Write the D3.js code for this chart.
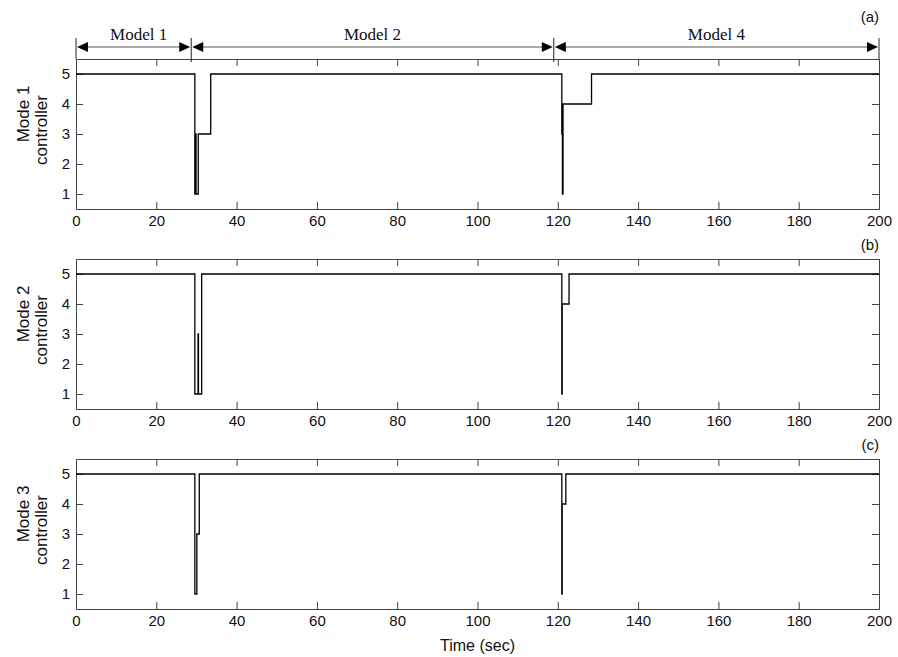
<!DOCTYPE html>
<html>
<head>
<meta charset="utf-8">
<script src="https://cdnjs.cloudflare.com/ajax/libs/d3/7.8.5/d3.min.js"></script>
<style>
body { margin: 0; background: #fff; }
svg { display: block; }
</style>
</head>
<body>
<svg id="chart" width="898" height="657"></svg>
<script>
// step change points: time (sec) and active model index
var mode1T = [0, 29.6, 29.8, 29.9, 30.45, 33.55, 121.0, 121.15, 121.3, 128.4, 200];
var mode1V = [5, 1, 3, 1, 3, 5, 3, 1, 4, 5, 5];
var mode2T = [0, 29.6, 30.4, 30.5, 31.3, 121.0, 121.1, 122.8, 200];
var mode2V = [5, 1, 3, 1, 5, 1, 4, 5, 5];
var mode3T = [0, 29.6, 30.1, 30.7, 121.0, 121.1, 122.0, 200];
var mode3V = [5, 1, 3, 5, 1, 4, 5, 5];

var xTicks = [0, 20, 40, 60, 80, 100, 120, 140, 160, 180, 200];
var yTicks = [1, 2, 3, 4, 5];
var panelNames = ["Mode 1", "Mode 2", "Mode 3"];
var panelTags = ["(a)", "(b)", "(c)"];

var modelBounds = [0, 28.7, 119, 200];
var modelNames = ["Model 1", "Model 2", "Model 4"];

var svg = d3.select("#chart");
var left = 76, right = 879, h = 150;
var panelTops = [59, 259, 459];
var font = "Liberation Sans, Arial, sans-serif";

var x = d3.scaleLinear().domain([0, 200]).range([left, right]);

var series = [
    mode1T.map(function (t, i) { return [t, mode1V[i]]; }),
    mode2T.map(function (t, i) { return [t, mode2V[i]]; }),
    mode3T.map(function (t, i) { return [t, mode3V[i]]; })
];

function drawPanel(p) {
    var pt = panelTops[p];
    var y = d3.scaleLinear().domain([0.5, 5.5]).range([pt + h, pt]);
    var g = svg.append("g");

    // inner ticks on all four sides
    g.append("g").attr("transform", "translate(0," + (pt + h) + ")")
        .call(d3.axisBottom(x).tickValues(xTicks).tickSizeInner(-7).tickSizeOuter(0).tickPadding(6));
    g.append("g").attr("transform", "translate(0," + pt + ")")
        .call(d3.axisTop(x).tickValues(xTicks).tickSizeInner(-7).tickSizeOuter(0).tickFormat(""));
    g.append("g").attr("transform", "translate(" + left + ",0)")
        .call(d3.axisLeft(y).tickValues(yTicks).tickFormat(d3.format("d"))
            .tickSizeInner(-7).tickSizeOuter(0).tickPadding(6));
    g.append("g").attr("transform", "translate(" + right + ",0)")
        .call(d3.axisRight(y).tickValues(yTicks).tickSizeInner(-7).tickSizeOuter(0).tickFormat(""));

    g.selectAll(".domain").attr("stroke", "#444");
    g.selectAll(".tick line").attr("stroke", "#444");
    g.selectAll(".tick text").attr("font-family", font)
        .attr("font-size", 15).attr("fill", "#111");

    var line = d3.line().curve(d3.curveStepAfter)
        .x(function (d) { return x(d[0]); })
        .y(function (d) { return y(d[1]); });
    g.append("path").datum(series[p]).attr("d", line)
        .attr("fill", "none").attr("stroke", "#000").attr("stroke-width", 1.3);

    // y label, two lines
    var cy = pt + h / 2;
    var lab = g.append("text").attr("transform", "translate(29," + cy + ") rotate(-90)")
        .attr("font-family", font).attr("font-size", 17).attr("fill", "#111");
    lab.append("tspan").attr("x", 20).attr("dy", 0).attr("text-anchor", "middle").text(panelNames[p]);
    lab.append("tspan").attr("x", 4).attr("dy", 18).attr("text-anchor", "middle").text("controller");

    g.append("text").attr("x", right).attr("y", pt - (p == 0 ? 37 : 9))
        .attr("text-anchor", "end").attr("font-family", font)
        .attr("font-size", 15).attr("fill", "#111").text(panelTags[p]);
}

for (var p = 0; p < 3; p++) drawPanel(p);

svg.append("text").attr("x", (left + right) / 2).attr("y", 651)
    .attr("text-anchor", "middle").attr("font-family", font)
    .attr("font-size", 16).attr("fill", "#111").text("Time (sec)");

// model interval annotation on top
var ay = 47;
var ann = svg.append("g");
for (var i = 0; i < modelBounds.length; i++) {
    var bx = x(modelBounds[i]);
    ann.append("line").attr("x1", bx).attr("x2", bx).attr("y1", 38)
        .attr("y2", (i == 0 || i == modelBounds.length - 1) ? 59 : 62)
        .attr("stroke", "#222").attr("stroke-width", 1);
}
for (var i = 0; i < modelNames.length; i++) {
    var x1 = x(modelBounds[i]) + 1, x2 = x(modelBounds[i + 1]) - 1;
    ann.append("line").attr("x1", x1 + 8).attr("x2", x2 - 8).attr("y1", ay).attr("y2", ay)
        .attr("stroke", "#555").attr("stroke-width", 1.2);
    ann.append("path").attr("d", "M" + x1 + "," + ay + "L" + (x1 + 11) + "," + (ay - 5) + "L" + (x1 + 11) + "," + (ay + 5) + "Z")
        .attr("fill", "#000");
    ann.append("path").attr("d", "M" + x2 + "," + ay + "L" + (x2 - 11) + "," + (ay - 5) + "L" + (x2 - 11) + "," + (ay + 5) + "Z")
        .attr("fill", "#000");
    ann.append("text").attr("x", (x1 + x2) / 2 + (i == 0 ? 5 : 0)).attr("y", 40)
        .attr("text-anchor", "middle").attr("font-family", "Liberation Serif, Times New Roman, serif")
        .attr("font-size", 17).attr("fill", "#111").text(modelNames[i]);
}
</script>
</body>
</html>
